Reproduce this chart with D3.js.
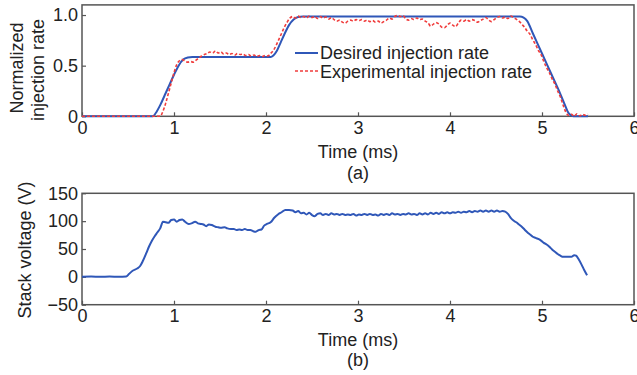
<!DOCTYPE html>
<html>
<head>
<meta charset="utf-8">
<script src="https://cdn.jsdelivr.net/npm/d3@7"></script>
<style>
  body { margin: 0; background: #fff; }
  svg text { font-family: "Liberation Sans", Arial, sans-serif; fill: #222; }
</style>
</head>
<body>
<svg id="chart" width="637" height="375"></svg>
<script>
'use strict';

// time ticks shared by both panels
const timeTicks = [0, 1, 2, 3, 4, 5, 6];
const rateTicks = [0, 0.5, 1.0];
const voltTicks = [-50, 0, 50, 100, 150];

// (a) desired injection rate
const desiredT = [0, 0.77, 0.80, 0.85, 0.90, 0.95, 1.00, 1.05, 1.10, 1.15, 1.20, 1.30,
  2.05, 2.08, 2.12, 2.16, 2.20, 2.25, 2.30, 2.35, 2.40,
  4.76, 4.80, 4.84, 4.90, 5.00, 5.10, 5.20, 5.25, 5.28, 5.31, 5.34, 5.50];
const desiredV = [0, 0, 0.03, 0.11, 0.21, 0.31, 0.41, 0.50, 0.56, 0.58, 0.585, 0.585,
  0.585, 0.60, 0.65, 0.73, 0.81, 0.90, 0.955, 0.98, 0.985,
  0.985, 0.975, 0.94, 0.82, 0.62, 0.42, 0.22, 0.11, 0.045, 0.012, 0, 0];

// (a) experimental injection rate
const expT = [0, 0.85, 0.88, 0.91, 0.94, 0.97, 1.00, 1.03, 1.06, 1.09, 1.12, 1.15, 1.18, 1.21, 1.24,
  1.27, 1.30, 1.33, 1.36, 1.39, 1.42, 1.45, 1.48, 1.51, 1.54, 1.57, 1.60, 1.63, 1.66, 1.69,
  1.72, 1.75, 1.78, 1.81, 1.84, 1.87, 1.90, 1.93, 1.96, 1.99, 2.02, 2.05, 2.08, 2.11, 2.14,
  2.17, 2.20, 2.23, 2.26, 2.29, 2.32, 2.35, 2.38, 2.41, 2.44, 2.47, 2.50, 2.53, 2.56, 2.59,
  2.62, 2.65, 2.68, 2.71, 2.74, 2.77, 2.80, 2.83, 2.86, 2.89, 2.92, 2.95, 2.98, 3.01, 3.04,
  3.07, 3.10, 3.13, 3.16, 3.19, 3.22, 3.25, 3.28, 3.31, 3.34, 3.37, 3.40, 3.43, 3.46, 3.49,
  3.52, 3.55, 3.58, 3.61, 3.64, 3.67, 3.70, 3.73, 3.76, 3.79, 3.82, 3.85, 3.88, 3.91, 3.94,
  3.97, 4.00, 4.03, 4.06, 4.09, 4.12, 4.15, 4.18, 4.21, 4.24, 4.27, 4.30, 4.33, 4.36, 4.39,
  4.42, 4.45, 4.48, 4.51, 4.54, 4.57, 4.60, 4.63, 4.66, 4.69, 4.72, 4.75, 4.78, 4.81, 4.84,
  4.87, 4.90, 4.93, 4.96, 4.99, 5.02, 5.05, 5.08, 5.11, 5.14, 5.17, 5.20, 5.23, 5.26, 5.29,
  5.32, 5.35, 5.38, 5.41, 5.44, 5.47, 5.50];
const expV = [0, 0, 0.05, 0.13, 0.23, 0.33, 0.43, 0.51, 0.55, 0.56, 0.545, 0.535, 0.54, 0.535, 0.555,
  0.575, 0.595, 0.61, 0.62, 0.635, 0.625, 0.645, 0.625, 0.635, 0.615, 0.625, 0.61, 0.62, 0.605, 0.62,
  0.61, 0.615, 0.60, 0.61, 0.595, 0.605, 0.59, 0.60, 0.59, 0.60, 0.595, 0.62, 0.65, 0.70, 0.76,
  0.82, 0.88, 0.93, 0.97, 0.985, 0.97, 0.99, 0.975, 0.985, 0.97, 0.99, 0.975, 0.985, 0.965, 0.985,
  0.97, 0.98, 0.96, 0.975, 0.955, 0.94, 0.95, 0.93, 0.92, 0.94, 0.95, 0.94, 0.955, 0.945, 0.955,
  0.94, 0.95, 0.935, 0.945, 0.93, 0.94, 0.92, 0.935, 0.95, 0.97, 0.96, 0.985, 0.995, 0.985, 0.995,
  0.96, 0.95, 0.965, 0.955, 0.97, 0.955, 0.96, 0.94, 0.925, 0.89, 0.91, 0.925, 0.91, 0.88, 0.875,
  0.90, 0.92, 0.90, 0.885, 0.92, 0.95, 0.94, 0.955, 0.94, 0.955, 0.945, 0.93, 0.945, 0.96, 0.975,
  0.95, 0.935, 0.955, 0.975, 0.985, 0.97, 0.98, 0.965, 0.99, 0.975, 0.96, 0.94, 0.91, 0.88, 0.84,
  0.81, 0.755, 0.71, 0.65, 0.61, 0.54, 0.48, 0.43, 0.37, 0.32, 0.25, 0.19, 0.11, 0.04, 0.01,
  0.02, 0.0, 0.025, 0.005, 0.02, 0.01, 0.02];

// (b) stack voltage
const voltT = [0, 0.10, 0.20, 0.30, 0.40, 0.48, 0.51, 0.55, 0.60, 0.63, 0.66, 0.70, 0.73, 0.76, 0.79,
  0.82, 0.85, 0.88, 0.91, 0.94, 0.97, 1.00, 1.03, 1.06, 1.09, 1.12, 1.16, 1.19, 1.23, 1.26,
  1.29, 1.32, 1.35, 1.38, 1.41, 1.45, 1.48, 1.51, 1.55, 1.58, 1.62, 1.65, 1.68, 1.71, 1.74,
  1.77, 1.80, 1.83, 1.86, 1.89, 1.92, 1.95, 1.98, 2.01, 2.05, 2.09, 2.13, 2.17, 2.21, 2.25,
  2.29, 2.32, 2.35, 2.38, 2.41, 2.44, 2.47, 2.50, 2.53, 2.56, 2.59, 2.62, 2.65, 2.68, 2.71,
  2.74, 2.77, 2.80, 2.83, 2.86, 2.89, 2.92, 2.95, 2.98, 3.01, 3.04, 3.07, 3.10, 3.13, 3.16,
  3.19, 3.22, 3.25, 3.28, 3.31, 3.34, 3.37, 3.40, 3.43, 3.46, 3.49, 3.52, 3.55, 3.58, 3.61,
  3.64, 3.67, 3.70, 3.73, 3.76, 3.79, 3.82, 3.85, 3.88, 3.91, 3.94, 3.97, 4.00, 4.03, 4.06,
  4.09, 4.12, 4.15, 4.18, 4.21, 4.24, 4.27, 4.30, 4.33, 4.36, 4.39, 4.42, 4.45, 4.48, 4.51,
  4.54, 4.57, 4.60, 4.63, 4.66, 4.69, 4.72, 4.75, 4.78, 4.81, 4.84, 4.87, 4.90, 4.93, 4.96,
  4.99, 5.02, 5.05, 5.08, 5.11, 5.14, 5.17, 5.20, 5.23, 5.26, 5.29, 5.32, 5.35, 5.37, 5.40,
  5.43, 5.46, 5.49];
const voltV = [0, 0.5, 0, 0.5, 0, 0.5, 5, 11, 15, 19, 28, 43, 55, 65, 73,
  80, 87, 99, 98, 97, 102, 103, 99, 102, 103, 99, 95, 96, 99, 96,
  95, 94, 91, 94, 93, 90, 89, 88, 89, 87, 86, 86, 84, 85, 84,
  86, 84, 84, 82, 81, 84, 85, 92, 95, 98, 106, 112, 116, 120, 120,
  119, 116, 118, 114, 115, 112, 115, 111, 109, 113, 114, 111, 113, 111, 114,
  112, 113, 111, 113, 111, 112, 111, 113, 110, 112, 111, 113, 111, 113, 111,
  112, 110, 113, 111, 113, 111, 114, 112, 113, 111, 113, 112, 114, 112, 113,
  111, 114, 112, 114, 112, 115, 113, 115, 113, 116, 114, 116, 114, 116, 115,
  117, 115, 117, 116, 118, 116, 118, 117, 119, 117, 119, 117, 119, 117, 119,
  117, 118, 117, 113, 106, 101, 98, 94, 90, 85, 80, 76, 72, 70, 68,
  65, 61, 58, 54, 49, 45, 41, 38, 36, 36, 36, 36, 39, 38, 31,
  22, 12, 3];

const legendLabels = ['Desired injection rate', 'Experimental injection rate'];

const blue = '#2f57b8';
const red = '#f03c3c';
const frameColor = '#555';

const svg = d3.select('#chart');

const x = d3.scaleLinear().domain([0, 6]).range([82, 634]);
const yA = d3.scaleLinear().domain([0, 1.1]).range([116.3, 4.9]);
const yB = d3.scaleLinear().domain([-50, 150]).range([304.7, 193.3]);

function zip(ts, vs) {
  return ts.map((t, i) => [t, vs[i]]);
}

function drawPanel(y, yTicks, yFmt, top, bottom) {
  const g = svg.append('g');

  g.append('g')
    .attr('transform', 'translate(0,' + bottom + ')')
    .call(d3.axisBottom(x).tickValues(timeTicks).tickFormat(d3.format('d'))
      .tickSizeInner(-4).tickSizeOuter(0).tickPadding(5))
    .call(a => a.select('.domain').remove())
    .call(a => a.selectAll('line').attr('stroke', frameColor).attr('stroke-width', 1.2))
    .call(a => a.selectAll('text').attr('font-size', 18).attr('fill', '#222')
      .attr('font-family', '"Liberation Sans", Arial, sans-serif'));

  g.append('g')
    .attr('transform', 'translate(82,0)')
    .call(d3.axisLeft(y).tickValues(yTicks).tickFormat(yFmt)
      .tickSizeInner(-4).tickSizeOuter(0).tickPadding(4))
    .call(a => a.select('.domain').remove())
    .call(a => a.selectAll('line').attr('stroke', frameColor).attr('stroke-width', 1.2))
    .call(a => a.selectAll('text').attr('font-size', 18).attr('fill', '#222')
      .attr('font-family', '"Liberation Sans", Arial, sans-serif'));

  g.append('rect')
    .attr('x', 82).attr('y', top)
    .attr('width', 634 - 82).attr('height', bottom - top)
    .attr('fill', 'none').attr('stroke', frameColor).attr('stroke-width', 1.5);

  return g;
}

// ---- panel (a)
drawPanel(yA, rateTicks, d => d === 0 ? '0' : d3.format('.1f')(d), 4.9, 116.3);

const lineA = d3.line().x(d => x(d[0])).y(d => yA(d[1]));

svg.append('path')
  .datum(zip(desiredT, desiredV))
  .attr('d', lineA.curve(d3.curveMonotoneX))
  .attr('fill', 'none').attr('stroke', blue).attr('stroke-width', 2);

svg.append('path')
  .datum(zip(expT, expV))
  .attr('d', d3.line().x(d => x(d[0])).y(d => yA(d[1])).curve(d3.curveMonotoneX))
  .attr('fill', 'none').attr('stroke', red).attr('stroke-width', 1.6)
  .attr('stroke-dasharray', '3,2');

// legend
const leg = svg.append('g');
leg.append('line').attr('x1', 295).attr('x2', 318).attr('y1', 53).attr('y2', 53)
  .attr('stroke', blue).attr('stroke-width', 2);
leg.append('line').attr('x1', 295).attr('x2', 318).attr('y1', 71).attr('y2', 71)
  .attr('stroke', red).attr('stroke-width', 1.6).attr('stroke-dasharray', '3,2');
leg.selectAll('text').data(legendLabels).enter().append('text')
  .attr('x', 320).attr('y', (d, i) => 59 + i * 18.5)
  .attr('font-size', 18).attr('fill', '#ffffff00')
  .style('fill', '#222')
  .text(d => d);

svg.append('text').attr('transform', 'translate(23,68) rotate(-90)')
  .attr('text-anchor', 'middle').attr('font-size', 18).text('Normalized');
svg.append('text').attr('transform', 'translate(44,70) rotate(-90)')
  .attr('text-anchor', 'middle').attr('font-size', 18).text('injection rate');
svg.append('text').attr('x', 358).attr('y', 158)
  .attr('text-anchor', 'middle').attr('font-size', 18).text('Time (ms)');
svg.append('text').attr('x', 358).attr('y', 179)
  .attr('text-anchor', 'middle').attr('font-size', 18).text('(a)');

// ---- panel (b)
drawPanel(yB, voltTicks, d => d < 0 ? '\u2212' + Math.abs(d) : String(d), 193.3, 304.7);

svg.append('path')
  .datum(zip(voltT, voltV))
  .attr('d', d3.line().x(d => x(d[0])).y(d => yB(d[1])).curve(d3.curveMonotoneX))
  .attr('fill', 'none').attr('stroke', blue).attr('stroke-width', 2);

svg.append('text').attr('transform', 'translate(31,250) rotate(-90)')
  .attr('text-anchor', 'middle').attr('font-size', 18).text('Stack voltage (V)');
svg.append('text').attr('x', 358).attr('y', 346)
  .attr('text-anchor', 'middle').attr('font-size', 18).text('Time (ms)');
svg.append('text').attr('x', 358).attr('y', 366)
  .attr('text-anchor', 'middle').attr('font-size', 18).text('(b)');
</script>
</body>
</html>
